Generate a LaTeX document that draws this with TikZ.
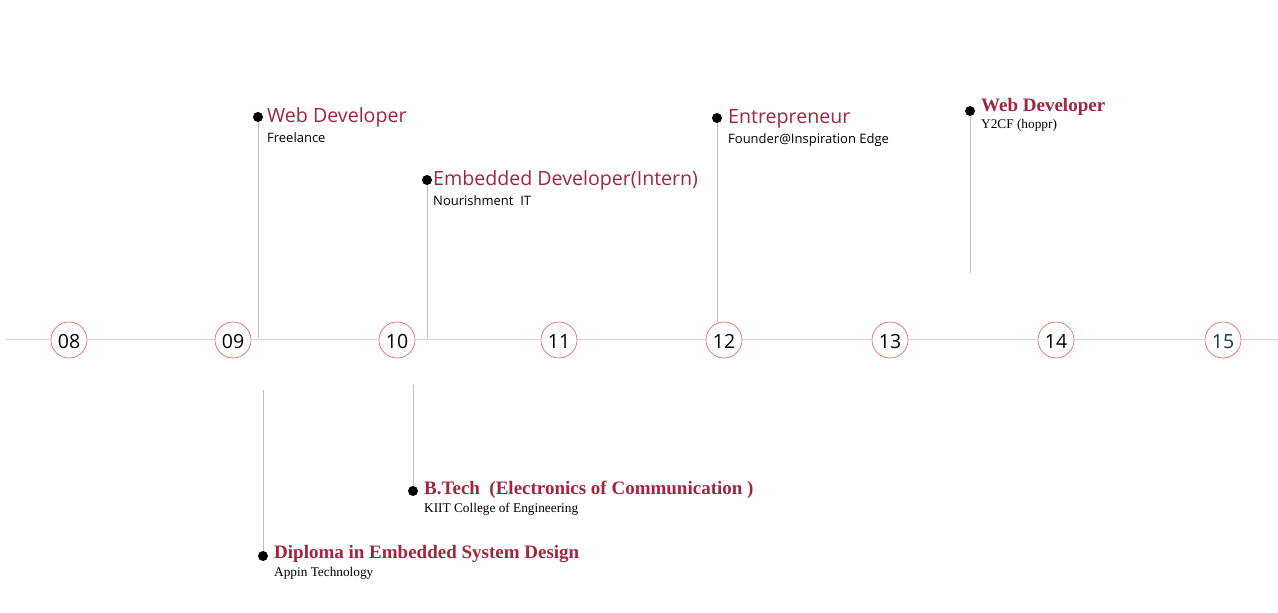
\documentclass[tikz,border=0pt]{standalone}
\usepackage{fontspec}
\setmainfont{Liberation Serif}
\newfontfamily\opensans{Open Sans}
\definecolor{titlered}{RGB}{158,38,62}
\definecolor{yearred}{RGB}{226,92,84}
\definecolor{axispink}{RGB}{242,206,206}
\definecolor{stemgray}{RGB}{190,190,190}
\definecolor{lastyear}{RGB}{30,55,82}
\begin{document}
\begin{tikzpicture}[x=1pt,y=-1pt,
  year/.style={draw=yearred, line width=0.6pt, circle, fill=white, minimum size=36pt, inner sep=0pt, text height=17pt, text depth=0pt, font=\opensans\fontsize{19.5}{19.5}\selectfont},
  bullet/.style={circle, fill=black, minimum size=10pt, inner sep=0pt},
  stem/.style={draw=stemgray, line width=0.8pt},
  jobtitle/.style={anchor=base west, inner sep=0pt, text=titlered, font=\opensans\fontsize{19.6}{19.6}\selectfont},
  jobplace/.style={anchor=base west, inner sep=0pt, font=\opensans\fontsize{13}{13}\selectfont},
  studytitle/.style={anchor=base west, inner sep=0pt, text=titlered, font=\bfseries\fontsize{19}{19}\selectfont},
  studyplace/.style={anchor=base west, inner sep=0pt, font=\fontsize{13.3}{13.3}\selectfont}]
\useasboundingbox (0,0) rectangle (1278,613);
% axis
\coordinate (axisstart) at (5,339);
\coordinate (axisend) at (1278,339);
\draw[axispink, line width=0.8pt] (axisstart) -- (axisend);
\node[year] (y08) at (69,340) {08};
\node[year] (y09) at (233,340) {09};
\node[year] (y10) at (397,340) {10};
\node[year] (y11) at (559,340) {11};
\node[year] (y12) at (724,340) {12};
\node[year] (y13) at (890,340) {13};
\node[year] (y14) at (1056,340) {14};
\node[year, text=lastyear] (y15) at (1223,340) {15};
% work, above the axis
\coordinate (freelanceend) at (258,338);
\coordinate (internend) at (427,338);
\coordinate (founderend) at (717,322);
\coordinate (hopprend) at (970,273);
\node[bullet] (freelance) at (258,117) {};
\node[bullet] (intern) at (427,180) {};
\node[bullet] (founder) at (717,118) {};
\node[bullet] (hoppr) at (970,111) {};
\draw[stem] (freelance) -- (freelanceend);
\draw[stem] (intern) -- (internend);
\draw[stem] (founder) -- (founderend);
\draw[stem] (hoppr) -- (hopprend);
\node[jobtitle] (freelancetitle) at (267,122) {Web Developer};
\node[jobplace] (freelanceplace) at (267,142) {Freelance};
\node[jobtitle] (interntitle) at (433,185) {Embedded Developer(Intern)};
\node[jobplace] (internplace) at (433,205) {Nourishment~~IT};
\node[jobtitle] (foundertitle) at (728,123) {Entrepreneur};
\node[jobplace] (founderplace) at (728,143) {Founder@Inspiration Edge};
\node[studytitle] (hopprtitle) at (981,111) {Web Developer};
\node[studyplace] (hopprplace) at (981,128) {Y2CF (hoppr)};
% study, below the axis
\coordinate (btechstart) at (413,385);
\coordinate (diplomastart) at (263,390);
\node[bullet] (btech) at (413,491) {};
\node[bullet] (diploma) at (263,556) {};
\draw[stem] (btechstart) -- (btech);
\draw[stem] (diplomastart) -- (diploma);
\node[studytitle] (btechtitle) at (424,494) {B.Tech~~(Electronics of Communication )};
\node[studyplace] (btechplace) at (424,512) {KIIT College of Engineering};
\node[studytitle] (diplomatitle) at (274,558) {Diploma in Embedded System Design};
\node[studyplace] (diplomaplace) at (274,576) {Appin Technology};
\end{tikzpicture}
\end{document}
